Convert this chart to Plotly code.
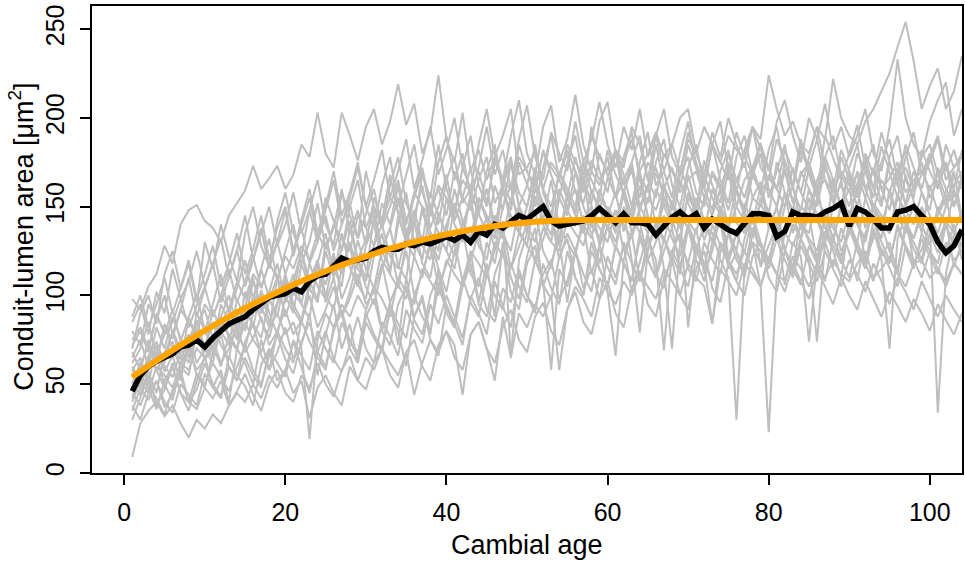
import plotly.graph_objects as go

# ---- individual tree series (conduit-lumen area, um^2), cambial age 1..n ----
tree01 = [98, 92, 105, 112, 128, 118, 140, 148, 151, 142,
          138, 130, 145, 152, 159, 173, 160, 166, 173, 160,
          168, 185, 178, 203, 180, 172, 203, 190, 176, 195,
          205, 185, 198, 219, 196, 208, 180, 192, 224, 188,
          175, 203, 170, 182, 165, 178, 190, 205, 168, 172,
          181, 160, 175, 168, 182, 170, 158, 176, 165, 172,
          180, 162, 170, 155, 175, 168, 160, 172, 158, 165,
          170, 155, 168, 160, 175, 150, 165, 172, 158, 166,
          160, 170, 152, 168, 175, 160, 165, 158, 170, 162,
          168, 155, 172, 160, 166, 175, 158, 165, 170, 160,
          168, 155, 162, 170]
tree02 = [75, 82, 70, 88, 80, 76, 92, 85, 78, 95,
          88, 100, 92, 108, 98, 112, 105, 118, 110, 122,
          115, 128, 120, 135, 126, 140, 132, 125, 145, 138,
          150, 142, 155, 148, 140, 158, 150, 145, 162, 155,
          148, 165, 158, 170, 152, 175, 165, 160, 178, 170,
          162, 180, 172, 165, 185, 175, 168, 190, 178, 170,
          182, 175, 188, 170, 180, 192, 178, 185, 170, 188,
          180, 195, 185, 175, 190, 182, 178, 195, 188, 224,
          205, 190, 198, 185, 180, 195, 188, 222, 200, 190,
          185, 198, 205, 215, 225, 240, 254, 232, 205, 218,
          228, 205, 215, 235]
tree03 = [9, 28, 35, 40, 32, 38, 28, 20, 30, 25,
          33, 28, 38, 45, 40, 50, 42, 55, 48, 58,
          45, 52, 31, 48, 55, 45, 38, 60, 52, 65,
          58, 70, 62, 55, 68, 44, 62, 75, 68, 80,
          72, 44, 78, 85, 70, 52, 88, 65, 90, 82,
          95, 88, 100, 58, 92, 105, 98, 88, 110, 102,
          95, 108, 100, 112, 105, 98, 115, 108, 100, 118,
          110, 105, 84, 115, 108, 100, 118, 112, 105, 120,
          112, 108, 122, 115, 105, 118, 110, 120, 112, 108,
          118, 125, 110, 115, 122, 112, 105, 118, 120, 110,
          115, 108, 118, 112]
tree04 = [40, 52, 45, 60, 55, 48, 62, 58, 70, 65,
          72, 60, 78, 70, 85, 75, 68, 82, 90, 78,
          85, 70, 19, 75, 90, 82, 95, 88, 100, 92,
          105, 98, 88, 110, 102, 95, 115, 108, 100, 120,
          112, 105, 125, 118, 110, 130, 122, 115, 135, 128,
          120, 138, 130, 125, 142, 135, 128, 145, 138, 130,
          148, 140, 132, 150, 142, 135, 152, 145, 138, 155,
          148, 140, 135, 120, 110, 30, 115, 130, 105, 23,
          110, 135, 128, 140, 132, 125, 145, 138, 130, 148,
          140, 132, 150, 142, 135, 148, 140, 132, 145, 138,
          130, 142, 135, 128]
tree05 = [35, 48, 41, 52, 37, 44, 58, 40, 47, 62,
          50, 43, 66, 55, 49, 38, 61, 70, 52, 58,
          74, 60, 45, 68, 80, 64, 57, 72, 88, 70,
          62, 85, 77, 66, 92, 81, 73, 95, 84, 100,
          88, 76, 98, 110, 92, 85, 104, 96, 115, 100,
          93, 112, 120, 98, 108, 126, 104, 115, 98, 122,
          110, 128, 102, 118, 135, 112, 104, 125, 116, 138,
          120, 108, 130, 142, 115, 124, 110, 136, 128, 118,
          140, 126, 112, 132, 145, 120, 130, 116, 138, 124,
          108, 135, 146, 122, 130, 112, 140, 126, 118, 135,
          124, 142, 116, 130]
tree06 = [62, 70, 85, 66, 78, 92, 74, 88, 101, 80,
          95, 112, 90, 104, 120, 98, 115, 132, 108, 125,
          140, 118, 130, 152, 126, 138, 160, 135, 148, 128,
          155, 142, 168, 146, 130, 158, 172, 150, 140, 165,
          178, 152, 160, 145, 170, 185, 158, 148, 175, 162,
          150, 172, 190, 165, 155, 178, 160, 195, 170, 158,
          182, 168, 150, 175, 192, 162, 170, 155, 180, 198,
          172, 160, 185, 165, 152, 178, 190, 168, 158, 182,
          195, 170, 162, 185, 172, 158, 190, 178, 165, 180,
          196, 172, 160, 184, 170, 155, 178, 192, 168, 175,
          188, 165, 172, 180]
tree07 = [55, 48, 63, 71, 57, 66, 52, 74, 81, 64,
          70, 88, 76, 69, 94, 82, 103, 90, 78, 99,
          112, 95, 87, 118, 106, 124, 98, 110, 131, 115,
          104, 126, 138, 117, 109, 142, 128, 120, 147, 133,
          122, 139, 155, 131, 144, 126, 150, 162, 137, 128,
          156, 143, 134, 160, 148, 139, 166, 151, 129, 145,
          158, 136, 149, 170, 144, 133, 161, 152, 140, 168,
          150, 131, 146, 159, 172, 141, 135, 155, 164, 138,
          149, 171, 153, 137, 160, 145, 132, 166, 150, 141,
          163, 176, 148, 139, 157, 144, 168, 153, 135, 162,
          147, 158, 170, 143]
tree08 = [30, 42, 55, 38, 47, 60, 45, 35, 52, 66,
          48, 58, 40, 70, 62, 50, 75, 58, 68, 82,
          64, 72, 90, 55, 78, 95, 70, 84, 62, 92,
          105, 80, 96, 72, 110, 88, 100, 78, 115, 94,
          82, 108, 125, 96, 118, 88, 130, 110, 98, 122,
          138, 105, 118, 132, 96, 125, 140, 112, 128, 102,
          66, 120, 135, 108, 126, 142, 115, 70, 130, 118,
          138, 112, 125, 145, 120, 108, 132, 148, 116, 128,
          140, 106, 130, 122, 74, 118, 136, 125, 110, 142,
          128, 115, 138, 120, 70, 132, 145, 118, 126, 140,
          34, 112, 135, 124]
tree09 = [68, 58, 75, 62, 84, 70, 60, 88, 76, 68,
          92, 80, 72, 98, 86, 108, 94, 82, 110, 100,
          90, 118, 104, 96, 125, 110, 135, 116, 105, 128,
          140, 120, 112, 145, 130, 122, 150, 136, 125, 155,
          140, 130, 158, 146, 135, 162, 148, 175, 150, 140,
          165, 152, 142, 170, 156, 146, 175, 158, 148, 166,
          180, 155, 145, 168, 158, 185, 162, 150, 172, 160,
          148, 176, 162, 152, 180, 165, 155, 172, 186, 160,
          150, 175, 162, 188, 168, 155, 178, 165, 150, 172,
          185, 160, 170, 152, 178, 190, 165, 155, 182, 170,
          160, 185, 172, 178]
tree10 = [45, 38, 50, 42, 33, 47, 55, 40, 36, 48,
          42, 52, 38, 46, 56, 44, 35, 50, 58, 45,
          40, 55, 48, 62, 50, 43, 58, 66, 52, 47,
          62, 70, 55, 48, 68, 75, 60, 52, 72, 80,
          65, 58, 78, 85, 70, 62, 82, 92, 75, 68,
          88, 96, 80, 72, 92, 102, 85, 78, 98, 108,
          90, 82, 104, 114, 95, 88, 110, 120, 100, 92,
          115, 125, 104, 96, 118, 108, 100, 122, 130, 110,
          102, 125, 115, 106, 128, 118, 108, 132, 120, 110,
          130, 118, 108, 126, 115, 105, 128, 120, 110, 125,
          115, 105, 118, 112]
tree11 = [88, 100, 82, 95, 110, 90, 104, 120, 98, 112,
          128, 105, 118, 135, 112, 126, 145, 120, 138, 150,
          125, 142, 160, 135, 150, 170, 145, 158, 175, 150,
          165, 182, 155, 170, 188, 160, 176, 195, 168, 182,
          200, 172, 160, 185, 205, 178, 165, 190, 210, 180,
          168, 195, 207, 175, 188, 213, 185, 170, 198, 209,
          180, 172, 195, 185, 165, 190, 205, 178, 168, 192,
          175, 160, 185, 198, 170, 158, 182, 195, 172, 165,
          188, 176, 160, 182, 170, 155, 178, 190, 168, 158,
          180, 170, 155, 175, 188, 165, 172, 160, 178, 185,
          168, 175, 160, 182]
tree12 = [50, 62, 57, 45, 68, 74, 60, 55, 80, 72,
          65, 86, 78, 70, 92, 84, 76, 98, 110, 88,
          102, 95, 118, 105, 98, 122, 112, 130, 115, 108,
          128, 140, 122, 115, 135, 126, 148, 132, 120, 140,
          152, 136, 128, 148, 160, 140, 132, 155, 145, 138,
          160, 150, 142, 128, 155, 148, 165, 140, 132, 150,
          142, 158, 135, 148, 162, 140, 130, 152, 145, 138,
          155, 142, 130, 150, 140, 160, 148, 135, 152, 142,
          130, 150, 162, 140, 135, 155, 145, 132, 150, 160,
          140, 130, 152, 145, 135, 158, 142, 132, 150, 138,
          145, 155, 135, 148]
tree13 = [58, 65, 50, 72, 60, 54, 68, 78, 62, 70,
          85, 72, 64, 90, 80, 100, 86, 76, 95, 108,
          92, 84, 105, 118, 96, 110, 88, 102, 120, 105,
          95, 115, 128, 106, 98, 122, 110, 132, 115, 102,
          125, 138, 112, 105, 130, 118, 142, 65, 120, 135,
          148, 125, 115, 140, 130, 122, 145, 135, 118, 140,
          130, 148, 120, 79, 125, 140, 132, 118, 145, 82,
          125, 140, 130, 150, 122, 135, 145, 128, 118, 138,
          150, 125, 140, 132, 120, 74, 130, 142, 125, 135,
          145, 120, 132, 140, 125, 115, 138, 130, 120, 142,
          132, 125, 140, 120]
tree14 = [80, 72, 95, 86, 100, 78, 92, 110, 88, 104,
          118, 96, 110, 126, 105, 120, 138, 115, 130, 148,
          122, 140, 155, 132, 148, 165, 140, 155, 172, 150,
          138, 162, 178, 150, 168, 185, 158, 145, 175, 190,
          165, 180, 155, 172, 195, 168, 182, 160, 188, 207,
          178, 165, 192, 180, 170, 198, 175, 188, 209, 185,
          172, 195, 182, 205, 178, 190, 170, 185, 200, 205,
          180, 168, 192, 178, 200, 185, 172, 195, 182, 170,
          198, 210, 190, 175, 200, 188, 208, 182, 195, 178,
          190, 205, 180, 170, 195, 233, 200, 185, 178, 198,
          210, 220, 190, 205]
tree15 = [38, 30, 45, 52, 40, 34, 50, 44, 38, 56,
          48, 42, 60, 52, 65, 55, 48, 70, 62, 54,
          75, 66, 58, 80, 70, 62, 85, 74, 68, 90,
          78, 70, 95, 84, 76, 100, 88, 80, 105, 92,
          85, 110, 96, 88, 112, 100, 92, 118, 105, 96,
          120, 108, 58, 115, 105, 125, 112, 102, 128, 116,
          106, 130, 118, 108, 132, 120, 69, 125, 135, 115,
          108, 130, 120, 112, 135, 125, 115, 138, 128, 118,
          140, 126, 115, 132, 122, 112, 136, 128, 118, 138,
          125, 115, 135, 126, 118, 140, 128, 116, 132, 122,
          112, 130, 120, 125]
tree16 = [72, 80, 68, 90, 78, 85, 98, 82, 94, 105,
          88, 100, 115, 96, 108, 122, 104, 118, 130, 112,
          125, 138, 118, 130, 145, 125, 140, 152, 132, 146,
          160, 138, 150, 165, 142, 155, 170, 148, 160, 145,
          170, 155, 148, 165, 178, 152, 162, 175, 158, 150,
          172, 160, 150, 168, 180, 158, 152, 170, 162, 178,
          155, 165, 175, 150, 162, 172, 155, 148, 168, 178,
          158, 150, 170, 162, 148, 165, 175, 155, 150, 168,
          160, 150, 172, 158, 148, 165, 175, 155, 162, 150,
          170, 160, 148, 165, 158, 172, 150, 162, 175, 155,
          165, 150, 168, 160]
tree17 = [60, 52, 66, 58, 48, 62, 55, 70, 58, 64,
          75, 62, 70, 82, 68, 76, 88, 72, 80, 92,
          78, 86, 100, 82, 92, 105, 88, 98, 112, 95,
          102, 118, 96, 108, 125, 100, 112, 128, 105, 118,
          130, 108, 120, 135, 112, 125, 138, 115, 128, 140,
          118, 132, 145, 120, 135, 125, 140, 150, 128, 138,
          148, 125, 135, 142, 120, 130, 145, 132, 122, 140,
          128, 118, 84, 125, 135, 120, 112, 130, 125, 115,
          132, 120, 110, 128, 118, 108, 125, 115, 105, 120,
          112, 102, 118, 108, 95, 110, 102, 92, 108, 98,
          88, 100, 92, 85]
tree18 = [85, 95, 78, 102, 90, 115, 98, 108, 125, 105,
          118, 132, 110, 125, 145, 120, 135, 150, 128, 140,
          158, 135, 148, 130, 155, 142, 125, 150, 165, 138,
          128, 152, 140, 162, 135, 148, 130, 158, 145, 135,
          160, 142, 132, 155, 145, 138, 162, 140, 150, 135,
          155, 142, 165, 138, 150, 160, 140, 132, 155, 148,
          138, 160, 145, 135, 155, 148, 162, 138, 150, 142,
          135, 155, 145, 160, 138, 150, 142, 132, 155, 148,
          140, 158, 135, 150, 145, 162, 138, 130, 152, 145,
          160, 138, 150, 142, 135, 155, 148, 140, 158, 145,
          135, 150, 160, 142]
tree19 = [42, 55, 48, 36, 52, 60, 45, 40, 56, 50,
          62, 54, 46, 60, 72, 58, 50, 66, 78, 64,
          56, 74, 85, 68, 60, 80, 92, 74, 66, 88,
          98, 80, 72, 95, 105, 86, 78, 100, 112, 90,
          82, 105, 118, 95, 88, 112, 125, 102, 92, 118,
          128, 106, 98, 122, 132, 110, 100, 125, 115, 105,
          128, 118, 108, 132, 120, 110, 125, 138, 115, 105,
          128, 118, 108, 130, 120, 112, 125, 115, 105, 122,
          112, 102, 118, 108, 98, 115, 105, 95, 110, 100,
          92, 108, 98, 88, 102, 94, 85, 98, 90, 80,
          95, 86, 78, 90]
tree20 = [65, 75, 60, 82, 70, 88, 76, 65, 90, 80,
          70, 95, 85, 75, 102, 90, 115, 98, 88, 110,
          100, 125, 108, 98, 130, 115, 105, 138, 120, 110,
          145, 125, 115, 140, 158, 130, 120, 148, 135, 125,
          150, 138, 128, 155, 142, 132, 160, 145, 135, 150,
          168, 140, 130, 155, 145, 170, 150, 138, 160, 148,
          135, 158, 172, 145, 135, 160, 150, 140, 165, 152,
          142, 168, 155, 145, 172, 160, 148, 170, 158, 145,
          175, 158, 148, 170, 160, 150, 172, 162, 150, 168,
          155, 178, 160, 150, 175, 162, 152, 170, 158, 148,
          172, 160, 150, 165]
tree21 = [52, 44, 58, 66, 50, 41, 60, 72, 55, 48,
          68, 78, 60, 52, 74, 84, 66, 58, 80, 70,
          62, 86, 74, 65, 58, 82, 90, 70, 62, 85,
          76, 68, 92, 80, 60, 88, 98, 75, 66, 95,
          84, 72, 100, 90, 78, 108, 94, 82, 112, 100,
          90, 118, 104, 95, 125, 110, 100, 130, 115, 105,
          128, 118, 108, 135, 120, 110, 132, 122, 112, 138,
          125, 115, 140, 128, 118, 135, 124, 145, 130, 120,
          138, 126, 116, 142, 130, 120, 145, 132, 122, 140,
          128, 118, 142, 130, 120, 138, 126, 115, 135, 125,
          118, 140, 128, 132]
tree22 = [70, 90, 100, 84, 112, 125, 104, 118, 96, 130,
          115, 140, 122, 108, 135, 150, 128, 116, 142, 158,
          135, 122, 148, 165, 140, 128, 158, 145, 132, 170,
          150, 138, 162, 178, 152, 140, 168, 155, 185, 160,
          145, 172, 190, 162, 150, 178, 165, 152, 185, 170,
          158, 182, 168, 155, 175, 190, 165, 152, 180, 168,
          155, 178, 192, 165, 152, 175, 188, 162, 150, 172,
          185, 160, 148, 170, 182, 158, 145, 168, 180, 155,
          170, 185, 160, 148, 172, 188, 165, 152, 178, 165,
          150, 172, 185, 160, 148, 170, 182, 158, 168, 180,
          160, 175, 150, 168]
tree23 = [48, 60, 72, 58, 66, 80, 64, 75, 86, 70,
          62, 82, 94, 78, 70, 90, 102, 85, 96, 112,
          95, 86, 108, 120, 100, 92, 115, 128, 106, 98,
          122, 135, 112, 104, 130, 142, 118, 110, 136, 125,
          115, 140, 152, 128, 120, 145, 135, 125, 150, 140,
          130, 152, 142, 132, 158, 145, 135, 160, 148, 138,
          126, 150, 140, 162, 145, 132, 155, 142, 130, 158,
          145, 135, 160, 148, 136, 125, 152, 140, 162, 145,
          135, 158, 145, 132, 155, 142, 130, 150, 165, 140,
          130, 155, 142, 132, 160, 145, 135, 152, 140, 128,
          150, 138, 158, 145]
tree24 = [58, 50, 66, 74, 62, 80, 70, 62, 84, 92,
          76, 88, 100, 82, 94, 110, 90, 102, 118, 96,
          108, 125, 104, 118, 135, 112, 126, 142, 120, 132,
          148, 125, 138, 155, 132, 145, 162, 138, 150, 168,
          142, 155, 172, 148, 160, 135, 165, 178, 150, 162,
          185, 158, 145, 170, 160, 150, 175, 165, 155, 182,
          168, 158, 175, 190, 165, 155, 180, 170, 160, 185,
          172, 162, 185, 175, 165, 192, 178, 168, 185, 172,
          160, 182, 170, 158, 178, 195, 172, 160, 182, 170,
          158, 180, 168, 192, 175, 162, 185, 172, 160, 178,
          190, 170, 182, 165]

trees = [tree01, tree02, tree03, tree04, tree05, tree06, tree07, tree08,
         tree09, tree10, tree11, tree12, tree13, tree14, tree15, tree16,
         tree17, tree18, tree19, tree20, tree21, tree22, tree23, tree24]

# ---- mean chronology (black) ----
mean_area = [46, 55, 60, 63, 65, 67, 71, 72, 75, 71,
             76, 80, 84, 86, 88, 92, 96, 99, 100, 101,
             104, 102, 108, 111, 112, 116, 121, 119, 120, 121,
             125, 127, 126, 126, 129, 128, 130, 129, 131, 133,
             131, 134, 130, 136, 134, 140, 138, 142, 145, 143,
             147, 150, 142, 139, 140, 141, 142, 145, 149, 145,
             141, 146, 141, 141, 140, 134, 139, 144, 147, 143,
             146, 138, 143, 140, 137, 135, 141, 146, 146, 145,
             133, 136, 147, 145, 145, 144, 147, 149, 152, 139,
             149, 147, 143, 138, 138, 147, 148, 150, 145, 140,
             130, 124, 128, 137]

# ---- fitted curve (orange) ----
fit_age = [1, 3, 5, 7, 9, 11, 13, 15, 17, 19, 21, 23, 25, 27, 29, 31, 33, 35, 37,
           39, 41, 43, 45, 47, 49, 51, 53, 55, 57, 104]
fit_area = [54.1, 60.3, 66.2, 72.0, 77.5, 82.8, 87.9, 92.8, 97.4, 101.8, 106.0, 109.9,
            113.6, 117.1, 120.4, 123.4, 126.3, 128.9, 131.2, 133.4, 135.3, 137.0, 138.4,
            139.7, 140.7, 141.5, 142.0, 142.4, 142.5, 142.5]

x_ticks = [0, 20, 40, 60, 80, 100]
y_ticks = [0, 50, 100, 150, 200, 250]

FONT = "Liberation Sans, Arial, sans-serif"
fig = go.Figure()
for t in trees:
    fig.add_trace(go.Scatter(x=list(range(1, len(t) + 1)), y=t, mode="lines",
                             line=dict(color="#BEBEBE", width=2), hoverinfo="skip",
                             showlegend=False))
fig.add_trace(go.Scatter(x=list(range(1, len(mean_area) + 1)), y=mean_area, mode="lines",
                         line=dict(color="black", width=5.5), showlegend=False))
fig.add_trace(go.Scatter(x=fit_age, y=fit_area, mode="lines", line_shape="spline",
                         line=dict(color="#FFA500", width=6), showlegend=False))

axis_common = dict(showgrid=False, zeroline=False, showline=True, linecolor="black",
                   linewidth=1.5, mirror=True, ticks="outside", ticklen=10,
                   tickwidth=1.5, tickcolor="black",
                   tickfont=dict(family=FONT, size=25, color="black"))
fig.update_layout(
    width=965, height=564,
    margin=dict(l=92, r=1, t=6, b=91),
    paper_bgcolor="white", plot_bgcolor="white",
    xaxis=dict(range=[-4, 104], tickvals=x_ticks, ticklabelstandoff=6, **axis_common),
    yaxis=dict(range=[0, 263], tickvals=y_ticks, tickangle=-90, ticklabelstandoff=6,
               **axis_common),
    annotations=[
        dict(text="Cambial age", xref="paper", yref="paper", x=0.5, y=-0.154,
             showarrow=False, xanchor="center", yanchor="middle",
             font=dict(family=FONT, size=27, color="black")),
        dict(text="Conduit-lumen area [μm<sup>2</sup>]", xref="paper", yref="paper",
             x=-0.081, y=0.505, textangle=-90, showarrow=False, xanchor="center",
             yanchor="middle", font=dict(family=FONT, size=27, color="black")),
    ],
)
fig.write_html("out.html")
